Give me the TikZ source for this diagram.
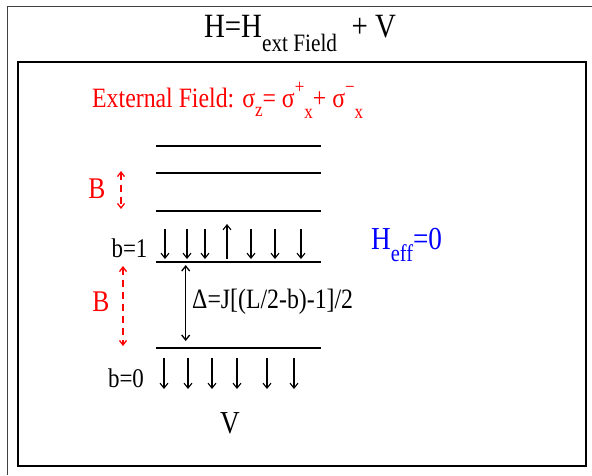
\documentclass[tikz,border=0pt]{standalone}
\usepackage{fontspec}
\setmainfont[FakeStretch=0.85]{Liberation Serif}
\usetikzlibrary{arrows.meta}
\begin{document}
\begin{tikzpicture}[x=1pt,y=-1pt,
  level/.style={line width=1.3pt},
  spin/.style={line width=1.1pt,-{Straight Barb[length=5pt,width=8pt,line width=1.1pt]}},
  gap/.style={red,dash pattern=on 7pt off 5pt,line width=1.3pt,{Straight Barb[length=4.5pt,width=7pt]}-{Straight Barb[length=4.5pt,width=7pt]}},
  dgap/.style={line width=1.3pt,{Straight Barb[length=5pt,width=8pt]}-{Straight Barb[length=5pt,width=8pt]}},
  txt/.style={inner sep=0pt}]
\useasboundingbox (0,0) rectangle (592,475);
\draw[black!75,line width=1pt] (592,6.5) -- (7,6.5) -- (7,475);
\draw[line width=1.2pt] (18,62) rectangle (586,466);
% title
\node[txt,anchor=base] (title) at (300,37) {\fontsize{34}{36}\selectfont H=H\raisebox{-0.42em}{\fontsize{25}{28}\selectfont ext Field}\ \ + V};
% external field
\node[txt,anchor=base west,red] (ext) at (92,107) {\fontsize{28}{30}\selectfont External Field: σ\raisebox{-0.35em}{\fontsize{20}{22}\selectfont z}= σ\raisebox{0.5em}{\fontsize{20}{22}\selectfont +}\raisebox{-0.42em}{\fontsize{20}{22}\selectfont x}+ σ\raisebox{0.5em}{\fontsize{20}{22}\selectfont −}\raisebox{-0.42em}{\fontsize{20}{22}\selectfont x}};
% levels
\coordinate (l1a) at (156,146); \coordinate (l1b) at (321,146);
\coordinate (l2a) at (156,173); \coordinate (l2b) at (321,173);
\coordinate (l3a) at (156,211); \coordinate (l3b) at (321,211);
\coordinate (l4a) at (156,262); \coordinate (l4b) at (321,262);
\coordinate (l5a) at (156,348); \coordinate (l5b) at (321,348);
\draw[level] (l1a) -- (l1b);
\draw[level] (l2a) -- (l2b);
\draw[level] (l3a) -- (l3b);
\draw[level] (l4a) -- (l4b);
\draw[level] (l5a) -- (l5b);
% B labels and gaps
\node[txt,red] (B1) at (97,189) {\fontsize{30}{32}\selectfont B};
\coordinate (g1t) at (121,171); \coordinate (g1b) at (121,209);
\draw[gap] (g1t) -- (g1b);
\node[txt,red] (B2) at (101,302) {\fontsize{30}{32}\selectfont B};
\coordinate (g2t) at (123,266); \coordinate (g2b) at (123,346);
\draw[gap] (g2t) -- (g2b);
% delta
\coordinate (dt) at (185.7,265); \coordinate (db) at (185.7,341);
\draw[dgap] (dt) -- (db);
\node[txt,anchor=west] (delta) at (192,302) {\fontsize{28}{30}\selectfont Δ=J[(L/2-b)-1]/2};
% b labels
\node[txt] (b1) at (129.5,248) {\fontsize{27}{30}\selectfont b=1};
\node[txt] (b0) at (126,378) {\fontsize{27}{30}\selectfont b=0};
% spins b=1
\foreach \x in {165,187,205,251,275,301} \draw[spin] (\x,229) -- (\x,259);
\draw[spin] (227,259) -- (227,224);
% spins b=0
\foreach \x in {164,188,212,237,267,294} \draw[spin] (\x,358) -- (\x,389);
% V
\node[txt] (V) at (230,423) {\fontsize{32}{34}\selectfont V};
% H_eff
\node[txt,blue,anchor=base west] (heff) at (371,249) {\fontsize{32}{34}\selectfont H\raisebox{-0.4em}{\fontsize{24}{26}\selectfont eff}=0};
\end{tikzpicture}
\end{document}
